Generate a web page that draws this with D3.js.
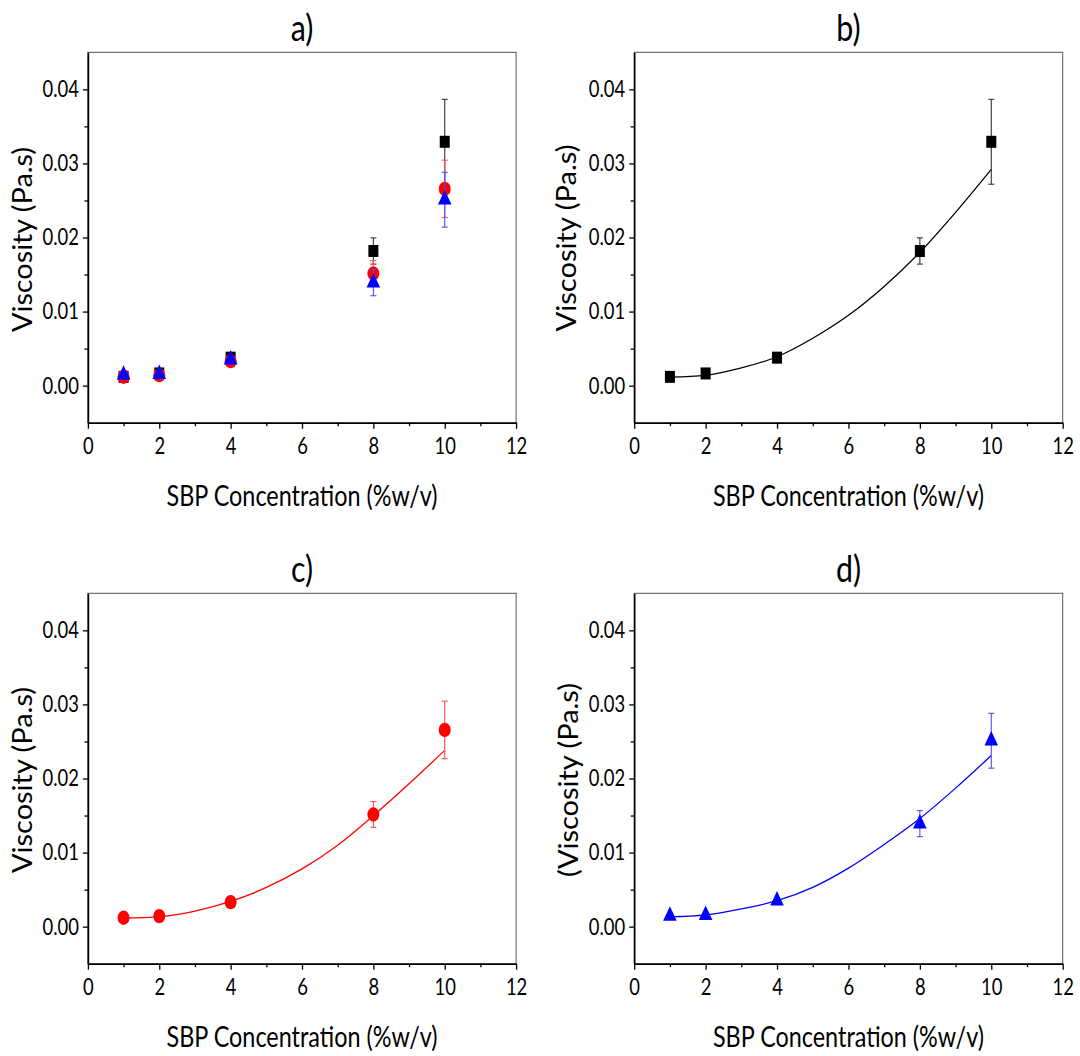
<!DOCTYPE html>
<html>
<head>
<meta charset="utf-8">
<script src="https://cdn.jsdelivr.net/npm/d3@7"></script>
<style>
  body { margin: 0; background: #fff; }
  svg { display: block; font-family: Lato, "Open Sans", sans-serif; }
</style>
</head>
<body>
<svg width="1080" height="1056"></svg>
<script>
// tick values / labels
var xTicks = [0, 2, 4, 6, 8, 10, 12];
var xMinor = [1, 3, 5, 7, 9, 11];
var yTicks = [0, 0.01, 0.02, 0.03, 0.04];
var yTickLabels = ["0.00", "0.01", "0.02", "0.03", "0.04"];
var yMinor = [0.005, 0.015, 0.025, 0.035];

// measured points (SBP concentration, %w/v)
var concentration = [1, 2, 4, 8, 10];
var viscBlack = [0.00119, 0.00165, 0.00378, 0.01818, 0.03292];
var errBlack = [0.0002, 0.0002, 0.0003, 0.00177, 0.00573];
var viscRed = [0.0012, 0.00142, 0.00331, 0.01514, 0.02656];
var errRed = [0.0002, 0.0002, 0.0003, 0.00174, 0.00388];
var viscBlue = [0.00146, 0.00156, 0.0035, 0.0139, 0.0251];
var errBlue = [0.0002, 0.0002, 0.0003, 0.00176, 0.0037];

// fitted curves
var fitX = [1, 2, 3, 4, 5, 6, 7, 8, 9, 10];
var fitBlack = [0.00115, 0.0014, 0.0024, 0.0039, 0.0064, 0.0095, 0.0134, 0.018, 0.0234, 0.0292];
var fitRed = [0.00114, 0.00135, 0.0021, 0.0034, 0.0053, 0.0078, 0.011, 0.015, 0.0193, 0.0238];
var fitBlue = [0.00131, 0.00158, 0.0024, 0.0035, 0.0053, 0.0079, 0.0111, 0.0146, 0.0187, 0.0231];

var series = {
  black: { vals: viscBlack, errs: errBlack, fit: fitBlack, color: "#000000", bar: "#333333", shape: "square" },
  red: { vals: viscRed, errs: errRed, fit: fitRed, color: "#ff0000", bar: "#ff4d4d", shape: "circle" },
  blue: { vals: viscBlue, errs: errBlue, fit: fitBlue, color: "#0000ff", bar: "#4d4dff", shape: "triangle" }
};

var panels = [
  { title: "a)", left: 87.9, right: 516.1, top: 52.3, bottom: 422.7, show: ["black", "red", "blue"], fit: false,
    ylab: "Viscosity (Pa.s)", ylabX: 32, ylabY: 239.5, ylabLen: 185 },
  { title: "b)", left: 634.2, right: 1062.7, top: 52.3, bottom: 422.7, show: ["black"], fit: true,
    ylab: "Viscosity (Pa.s)", ylabX: 576, ylabY: 238, ylabLen: 187 },
  { title: "c)", left: 87.9, right: 516.1, top: 593.3, bottom: 963.7, show: ["red"], fit: true,
    ylab: "Viscosity (Pa.s)", ylabX: 32, ylabY: 780, ylabLen: 186 },
  { title: "d)", left: 634.2, right: 1062.7, top: 593.3, bottom: 963.7, show: ["blue"], fit: true,
    ylab: "(Viscosity (Pa.s)", ylabX: 578, ylabY: 780, ylabLen: 194 }
];

var svg = d3.select("svg");

//squeeze text horizontally, the original font is narrower than Lato
function squeeze(sel, k) {
  sel.each(function () {
    var len = this.getComputedTextLength();
    d3.select(this).attr("textLength", len * k).attr("lengthAdjust", "spacingAndGlyphs");
  });
}

function drawPanel(p) {
  var g = svg.append("g");
  var x = d3.scaleLinear().domain([0, 12]).range([p.left, p.right]);
  var y = d3.scaleLinear().domain([-0.005, 0.045]).range([p.bottom, p.top]);

  // frame (top/right)
  g.append("rect")
    .attr("x", p.left).attr("y", p.top)
    .attr("width", p.right - p.left).attr("height", p.bottom - p.top)
    .attr("fill", "none").attr("stroke", "#555").attr("stroke-width", 1);

  // minor ticks
  g.append("g").attr("transform", `translate(0,${p.bottom})`)
    .call(d3.axisBottom(x).tickValues(xMinor).tickSize(3.5).tickFormat(""))
    .call(a => a.select(".domain").remove());
  g.append("g").attr("transform", `translate(${p.left},0)`)
    .call(d3.axisLeft(y).tickValues(yMinor).tickSize(3.5).tickFormat(""))
    .call(a => a.select(".domain").remove());

  // major axes
  var xa = g.append("g").attr("transform", `translate(0,${p.bottom})`)
    .call(d3.axisBottom(x).tickValues(xTicks).tickSize(6).tickSizeOuter(0).tickPadding(9));
  var ya = g.append("g").attr("transform", `translate(${p.left},0)`)
    .call(d3.axisLeft(y).tickValues(yTicks).tickSize(5).tickSizeOuter(0).tickPadding(4)
      .tickFormat((d, i) => yTickLabels[i]));

  g.selectAll(".tick line").attr("stroke", "#000").attr("stroke-width", 1.3);
  [xa, ya].forEach(a => {
    a.select(".domain").attr("stroke", "#000").attr("stroke-width", 1.6);
    a.selectAll("text").attr("font-size", 23).attr("fill", "#000").attr("font-family", "Lato");
    squeeze(a.selectAll("text"), 0.8);
  });

  // title
  var t = g.append("text").attr("x", (p.left + p.right) / 2).attr("y", p.top - 11.5)
    .attr("text-anchor", "middle").attr("font-size", 37).text(p.title);
  squeeze(t, 0.82);

  // axis labels
  g.append("text").attr("x", (p.left + p.right) / 2).attr("y", p.bottom + 83)
    .attr("text-anchor", "middle").attr("font-size", 28)
    .attr("textLength", 271).attr("lengthAdjust", "spacingAndGlyphs")
    .text("SBP Concentration (%w/v)");
  g.append("text").attr("transform", `translate(${p.ylabX},${p.ylabY}) rotate(-90)`)
    .attr("text-anchor", "middle").attr("font-size", 27)
    .attr("textLength", p.ylabLen).attr("lengthAdjust", "spacingAndGlyphs")
    .text(p.ylab);

  // fits
  if (p.fit) {
    p.show.forEach(key => {
      var s = series[key];
      var line = d3.line().x((d, i) => x(fitX[i])).y(d => y(d)).curve(d3.curveMonotoneX);
      g.append("path").datum(s.fit).attr("d", line)
        .attr("fill", "none").attr("stroke", s.color).attr("stroke-width", 1.3);
    });
  }

  // points with error bars
  p.show.forEach(key => {
    var s = series[key];
    var pts = concentration.map((c, i) => ({ c: c, v: s.vals[i], e: s.errs[i] }));
    var eb = g.append("g").attr("stroke", s.bar).attr("stroke-width", 1.1);
    pts.forEach(d => {
      var cx = x(d.c), y1 = y(d.v + d.e), y2 = y(d.v - d.e);
      eb.append("line").attr("x1", cx).attr("x2", cx).attr("y1", y1).attr("y2", y2);
      eb.append("line").attr("x1", cx - 3).attr("x2", cx + 3).attr("y1", y1).attr("y2", y1);
      eb.append("line").attr("x1", cx - 3).attr("x2", cx + 3).attr("y1", y2).attr("y2", y2);
    });
    var mk = g.append("g").attr("fill", s.color);
    pts.forEach(d => {
      var cx = x(d.c), cy = y(d.v);
      if (s.shape == "square") {
        mk.append("rect").attr("x", cx - 5).attr("y", cy - 6).attr("width", 10).attr("height", 12);
      } else if (s.shape == "circle") {
        mk.append("ellipse").attr("cx", cx).attr("cy", cy).attr("rx", 6).attr("ry", 7.2);
      } else {
        mk.append("path").attr("transform", `translate(${cx},${cy})`)
          .attr("d", "M0,-9.7L6.8,4.8L-6.8,4.8Z");
      }
    });
  });
}

panels.forEach(drawPanel);
</script>
</body>
</html>
